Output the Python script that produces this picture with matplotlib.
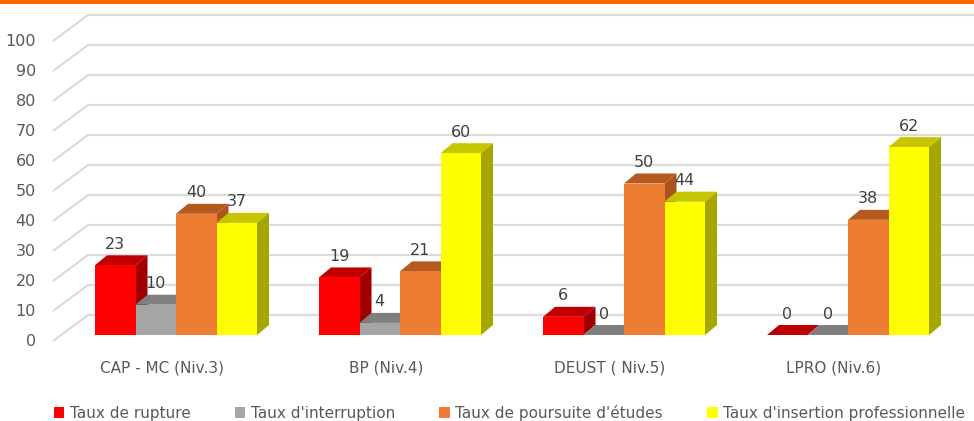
import matplotlib.pyplot as plt
from matplotlib.patches import Polygon, Patch, Rectangle

# Données du graphique
categories = ['CAP - MC (Niv.3)', 'BP (Niv.4)', 'DEUST ( Niv.5)', 'LPRO (Niv.6)']
series = ["Taux de rupture", "Taux d'interruption",
          "Taux de poursuite d'études", "Taux d'insertion professionnelle"]
rupture = [23, 19, 6, 0]
interruption = [10, 4, 0, 0]
poursuite = [40, 21, 50, 38]
insertion = [37, 60, 44, 62]
yticks = list(range(0, 101, 10))

valeurs = [rupture, interruption, poursuite, insertion]
# couleurs : face avant, dessus, côté
couleurs = [
    ('#FF0000', '#C00000', '#A00000'),
    ('#A5A5A5', '#7F7F7F', '#767676'),
    ('#ED7D31', '#B5591F', '#A9541C'),
    ('#FFFF00', '#C6C600', '#A6A600'),
]

W, H = 974, 421
fig = plt.figure(figsize=(W / 100, H / 100), dpi=100)
ax = fig.add_axes([0, 0, 1, 1])

# échelle : 224 px par catégorie, 3.03 px par unité
px_cat = 224.0
px_val = 3.03
x0_px = 176.0   # centre du premier groupe
base_px = 335.0  # base des barres (depuis le haut)

ax.set_xlim(-x0_px / px_cat, (W - x0_px) / px_cat)
ax.set_ylim(-(H - base_px) / px_val, base_px / px_val)
ax.axis('off')


def fx(px):
    return (px - x0_px) / px_cat


def fy(py):
    return (base_px - py) / px_val


# fausse profondeur 3D
dx = 12 / px_cat
dy = 10 / px_val
largeur = 40.5 / px_cat

# quadrillage (mur du fond + raccord oblique)
for v in yticks:
    y_front = fy(341 - 3.0 * v)
    y_back = fy(315 - 3.0 * v)
    ax.plot([fx(53), fx(88), fx(W)], [y_front, y_back, y_back],
            color='#DCDCDC', lw=1.6, zorder=1, solid_capstyle='butt')
    ax.text(fx(36), y_front, str(v), ha='right', va='center',
            fontsize=11.5, color='#595959')

# barres
for j, (vals, (c_front, c_top, c_side)) in enumerate(zip(valeurs, couleurs)):
    xs = [i + (j - 1.5) * largeur for i in range(len(categories))]
    z = 3 + j
    ax.bar(xs, vals, width=largeur, color=c_front, zorder=z + 0.5, linewidth=0)
    for x, v in zip(xs, vals):
        l, r = x - largeur / 2, x + largeur / 2
        top = Polygon([(l, v), (r, v), (r + dx, v + dy), (l + dx, v + dy)],
                      closed=True, facecolor=c_top, edgecolor='none', zorder=z)
        side = Polygon([(r, 0), (r + dx, dy), (r + dx, v + dy), (r, v)],
                       closed=True, facecolor=c_side, edgecolor='none', zorder=z)
        ax.add_patch(side)
        ax.add_patch(top)
        ax.text(x, v + 6.9, str(v), ha='center', va='center',
                fontsize=11.5, color='#404040', zorder=10)

# étiquettes des catégories
for i, cat in enumerate(categories):
    ax.text(i - 14 / px_cat, fy(368), cat, ha='center', va='center',
            fontsize=11, color='#595959')

# bandeau orange en haut
fig.patches.append(Rectangle((0, 1 - 3.5 / H), 1, 3.5 / H, transform=fig.transFigure,
                             facecolor='#FF6600', edgecolor='none'))

# légende
handles = [Patch(facecolor=c[0], edgecolor='none') for c in couleurs]
fig.legend(handles, series, loc='center', bbox_to_anchor=(509.5 / W, 1 - 413 / H),
           ncol=4, frameon=False, fontsize=11, handlelength=0.7, handleheight=0.7,
           handletextpad=0.35, columnspacing=2.9, labelcolor='#595959')

fig.savefig('out.png', dpi=100)
